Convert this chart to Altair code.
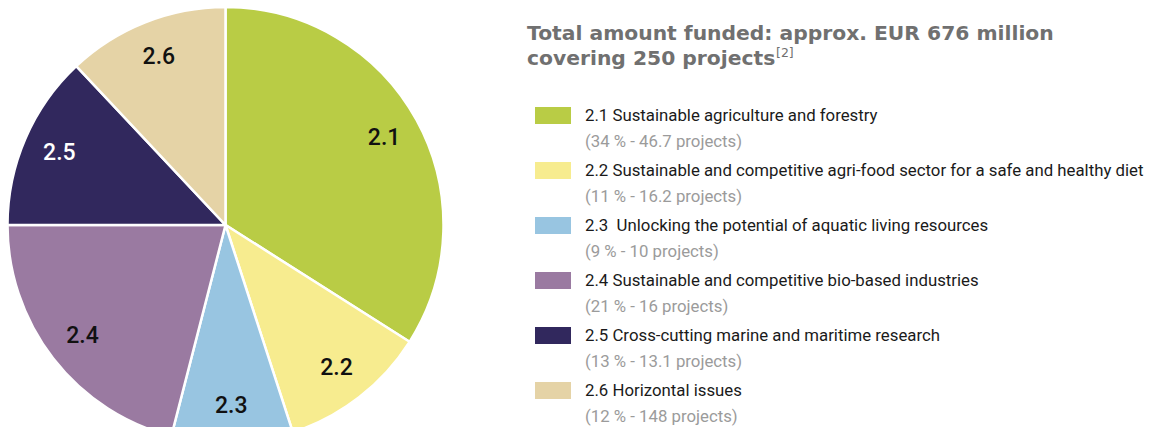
import altair as alt
import pandas as pd

codes = ["2.1", "2.2", "2.3", "2.4", "2.5", "2.6"]
names = [
    "2.1 Sustainable agriculture and forestry",
    "2.2 Sustainable and competitive agri-food sector for a safe and healthy diet",
    "2.3\u00a0 Unlocking the potential of aquatic living resources",
    "2.4 Sustainable and competitive bio-based industries",
    "2.5 Cross-cutting marine and maritime research",
    "2.6 Horizontal issues",
]
percent = [34, 11, 9, 21, 13, 12]
projects = ["46.7", "16.2", "10", "16", "13.1", "148"]
colors = ["#b9cc45", "#f7ec8f", "#98c5e1", "#9a7aa1", "#31285d", "#e5d3a6"]
label_colors = ["#111111", "#111111", "#111111", "#111111", "#ffffff", "#111111"]
title_line1 = "Total amount funded: approx. EUR 676 million"
title_line2 = "covering 250 projects"
footnote = "[2]"

df = pd.DataFrame({
    "code": codes,
    "name": names,
    "pct": percent,
    "idx": list(range(len(codes))),
    "sub": [f"({p} % - {n} projects)" for p, n in zip(percent, projects)],
    "tc": label_colors,
})

CX, CY, R = 217.5, 217, 218
LEG_FONT = "Roboto"
LEG_SIZE = 16.8

base = alt.Chart(df)

color_enc = alt.Color("code:N", scale=alt.Scale(domain=codes, range=colors), legend=None)

pie = base.mark_arc(outerRadius=R, stroke="white", strokeWidth=2.5).encode(
    theta=alt.Theta("pct:Q", stack=True),
    order=alt.Order("idx:Q"),
    color=color_enc,
    x=alt.value(CX),
    y=alt.value(CY),
)

pie_labels = base.mark_text(
    radius=181, font="Roboto", fontSize=23, fontWeight=500, align="center", baseline="middle"
).encode(
    theta=alt.Theta("pct:Q", stack=True),
    order=alt.Order("idx:Q"),
    text="code:N",
    fill=alt.Fill("tc:N", scale=None),
    x=alt.value(CX),
    y=alt.value(CY),
)

yscale = alt.Scale(type="point", domain=codes, range=[107.5, 382.5], padding=0)

swatches = base.mark_rect(width=36, height=17).encode(
    x=alt.value(545),
    y=alt.Y("code:N", scale=yscale, axis=None),
    color=color_enc,
)

leg_main = base.mark_text(
    align="left", baseline="alphabetic", font=LEG_FONT, fontSize=LEG_SIZE, color="#1a1a1a", dy=5.5
).encode(
    x=alt.value(577),
    y=alt.Y("code:N", scale=yscale, axis=None),
    text="name:N",
)

leg_sub = base.mark_text(
    align="left", baseline="alphabetic", font=LEG_FONT, fontSize=LEG_SIZE, color="#9b9b9b", dy=31.5
).encode(
    x=alt.value(577),
    y=alt.Y("code:N", scale=yscale, axis=None),
    text="sub:N",
)

one = pd.DataFrame({"t": [0]})
TITLE_FONT = "DejaVu Sans"
TITLE_SIZE = 20.3
TITLE_COLOR = "#707070"
title1 = alt.Chart(one).mark_text(
    align="left", baseline="alphabetic", font=TITLE_FONT, fontSize=TITLE_SIZE, fontWeight="bold", color=TITLE_COLOR,
).encode(x=alt.value(519), y=alt.value(32), text=alt.value(title_line1))

title2 = alt.Chart(one).mark_text(
    align="left", baseline="alphabetic", font=TITLE_FONT, fontSize=TITLE_SIZE, fontWeight="bold", color=TITLE_COLOR,
).encode(x=alt.value(519), y=alt.value(57), text=alt.value(title_line2))

sup = alt.Chart(one).mark_text(
    align="left", baseline="alphabetic", font=TITLE_FONT, fontSize=12.5, color=TITLE_COLOR,
).encode(x=alt.value(768), y=alt.value(49), text=alt.value(footnote))

chart = alt.layer(pie, pie_labels, swatches, leg_main, leg_sub, title1, title2, sup).properties(
    width=1138, height=419, padding=0, autosize=alt.AutoSizeParams(type="none")
).configure_view(stroke=None)

chart.save("out.html", embed_options={"renderer": "svg", "actions": False})
